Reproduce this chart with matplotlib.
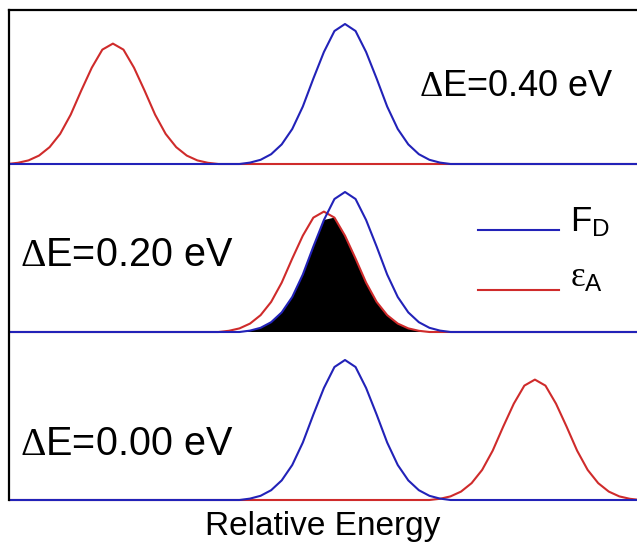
import numpy as np
import matplotlib.pyplot as plt

plt.rcParams['font.family'] = ['Liberation Sans', 'DejaVu Sans']
plt.rcParams['mathtext.fontset'] = 'custom'
plt.rcParams['mathtext.rm'] = 'Liberation Serif'
plt.rcParams['mathtext.it'] = 'Liberation Serif'
plt.rcParams['mathtext.sf'] = 'Liberation Sans'

# sampled line shape (relative height), one point every 0.01 eV around the peak
profile = [0.01, 0.03, 0.07, 0.14, 0.25, 0.41, 0.61, 0.80, 0.95, 1.00,
           0.95, 0.80, 0.61, 0.41, 0.25, 0.14, 0.07, 0.03, 0.01]
step = 0.01

# panels from top to bottom
panel_labels = ['$\\Delta$E=0.40 eV', '$\\Delta$E=0.20 eV', '$\\Delta$E=0.00 eV']
panel_offsets = [2.4, 1.2, 0.0]
donor_center = [0, 0, 0]          # in steps of 0.01 eV
acceptor_center = [-22, -2, 18]   # in steps of 0.01 eV
donor_height = 1.0
acceptor_height = 0.86

blue = '#2222b8'
red = '#cf2b2b'

grid_steps = np.arange(-34, 31)
x = grid_steps * step


def curve(center, height):
    y = np.zeros(len(grid_steps))
    half = len(profile) // 2
    for k, v in enumerate(profile):
        idx = np.where(grid_steps == center + k - half)[0]
        if len(idx):
            y[idx[0]] = v * height
    return y


unit = 490 / 3.5      # pixels per height unit
pad = 0.03            # room below the lowest baseline
fig = plt.figure(figsize=(6.37, 5.5), dpi=100)
ax = fig.add_axes([9 / 637, (50 - pad * unit) / 550, 1.0, (490 + pad * unit) / 550])

for i in range(3):
    base = panel_offsets[i]
    fd = curve(donor_center[i], donor_height)
    ea = curve(acceptor_center[i], acceptor_height)
    if i == 1:
        ax.fill_between(x, base, base + np.minimum(fd, ea), color='black', lw=0)
    ax.plot(x, base + ea, color=red, lw=1.5)
    ax.plot(x, base + fd, color=blue, lw=1.5)

# panel labels
ax.text(0.95, 0.845, panel_labels[0], transform=ax.transAxes, fontsize=26,
        ha='right', va='center')
ax.text(0.018, 0.505, panel_labels[1], transform=ax.transAxes, fontsize=28.5,
        ha='left', va='center')
ax.text(0.018, 0.122, panel_labels[2], transform=ax.transAxes, fontsize=28.5,
        ha='left', va='center')

# legend drawn by hand
ax.plot([0.1265, 0.2025], [1.93, 1.93], color=blue, lw=1.5)
ax.plot([0.1265, 0.2025], [1.50, 1.50], color=red, lw=1.5)
ax.text(0.213, 1.98, r'F$_{\mathsf{D}}$', fontsize=25, ha='left', va='center')
ax.text(0.213, 1.59, r'$\varepsilon_{\mathsf{A}}$', fontsize=25, ha='left',
        va='center')

ax.set_xlim(-336 / 1055, -336 / 1055 + 637 / 1055)
ax.set_ylim(-pad, 3.5)
ax.set_xticks([])
ax.set_yticks([])
for side in ['right', 'bottom']:
    ax.spines[side].set_visible(False)
for side in ['top', 'left']:
    ax.spines[side].set_linewidth(1.6)
    ax.spines[side].set_color('black')
ax.spines['left'].set_bounds(0, 3.5)

fig.text(323 / 637, 1 - 527 / 550, 'Relative Energy', fontsize=24,
         ha='center', va='center')

fig.savefig('out.png', dpi=100)
